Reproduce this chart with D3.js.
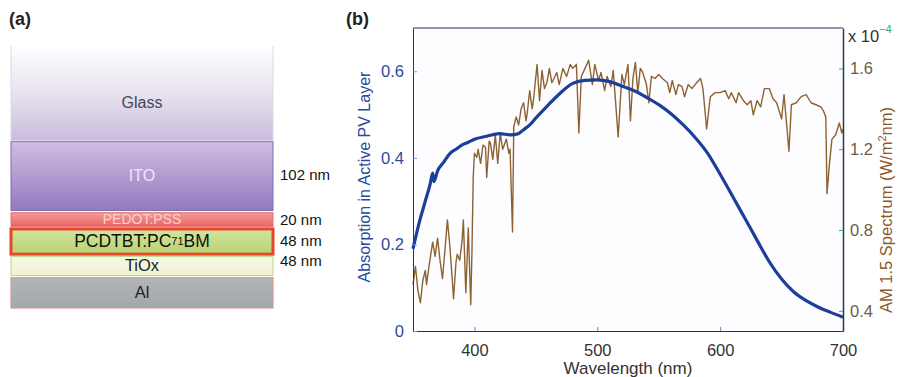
<!DOCTYPE html>
<html>
<head>
<meta charset="utf-8">
<script src="https://cdn.jsdelivr.net/npm/d3@7"></script>
<style>
  body { margin: 0; background: #fff; }
  text { font-family: "Liberation Sans", Arial, sans-serif; }
</style>
</head>
<body>
<div id="chart"></div>
<script>
// ---- panel (a): device stack ----
const layerNames = ['Glass', 'ITO', 'PEDOT:PSS', 'PCDTBT:PC71BM', 'TiOx', 'Al'];
const layerThickness = ['', '102 nm', '20 nm', '48 nm', '48 nm', ''];
const layerUnits = [96, 70, 16, 27, 21, 32];   // drawn heights (not to scale)

// ---- panel (b): absorption + AM1.5 ----
const absWl = [350, 355, 360, 364, 366, 367, 370, 375, 380, 385, 390, 395, 400, 410, 420, 430, 435,
  440, 445, 450, 460, 470, 480, 490, 500, 510, 520, 530, 540, 550, 560, 570, 580, 590, 600,
  610, 620, 630, 640, 650, 660, 670, 680, 690, 700];
const absVal = [0.19, 0.25, 0.30, 0.34, 0.365, 0.345, 0.37, 0.39, 0.41, 0.42, 0.43, 0.436, 0.443, 0.45, 0.456, 0.453, 0.455,
  0.465, 0.476, 0.492, 0.522, 0.55, 0.572, 0.579, 0.58, 0.576, 0.566, 0.555, 0.54, 0.523, 0.502, 0.476, 0.446, 0.41, 0.362,
  0.312, 0.261, 0.21, 0.16, 0.12, 0.09, 0.07, 0.055, 0.043, 0.032];

const specWl = [350, 352, 354, 356, 358, 360, 361, 363, 366, 368, 370, 372, 374, 376, 378, 380, 382, 383, 385, 386,
  388, 390, 391, 393, 395, 397, 398, 399, 400, 402, 403, 405, 407, 409, 410, 412, 413, 415, 417, 419,
  421, 423, 426, 428, 429, 431, 432, 434, 436, 438, 440, 442, 443, 445, 447, 448, 451, 453, 455, 457,
  459, 461, 463, 464, 467, 469, 472, 475, 478, 480, 483, 485, 487, 490, 493, 496, 498, 501, 503, 506,
  508, 511, 513, 517, 520, 522, 525, 527, 529, 531, 533, 535, 537, 540, 542, 544, 547, 550, 553, 557,
  559, 561, 564, 566, 569, 571, 574, 577, 581, 584, 586, 589, 592, 596, 600, 604, 607, 609, 613, 615,
  619, 622, 625, 627, 630, 633, 636, 640, 643, 646, 650, 652, 656, 658, 662, 666, 670, 674, 678, 682,
  684, 686, 687, 689, 691, 694, 697, 699, 700];
const specVal = [0.53, 0.62, 0.50, 0.44, 0.55, 0.60, 0.53, 0.62, 0.74, 0.67, 0.76, 0.65, 0.56, 0.70, 0.85, 0.72, 0.55, 0.46, 0.64, 0.68,
  0.65, 0.75, 0.85, 0.49, 0.81, 0.43, 0.70, 1.06, 1.18, 1.16, 1.20, 1.13, 1.22, 1.21, 1.06, 1.24, 1.23, 1.15, 1.27, 1.13,
  1.28, 1.20, 1.25, 1.18, 1.20, 0.79, 1.31, 1.36, 1.32, 1.40, 1.43, 1.34, 1.38, 1.49, 1.40, 1.44, 1.62, 1.44, 1.59, 1.50,
  1.53, 1.60, 1.53, 1.54, 1.58, 1.52, 1.60, 1.56, 1.62, 1.60, 1.62, 1.28, 1.56, 1.60, 1.64, 1.52, 1.62, 1.54, 1.58, 1.49,
  1.56, 1.51, 1.59, 1.26, 1.57, 1.52, 1.62, 1.34, 1.55, 1.63, 1.48, 1.60, 1.58, 1.52, 1.43, 1.56, 1.55, 1.57, 1.55, 1.53,
  1.48, 1.54, 1.47, 1.52, 1.51, 1.46, 1.52, 1.50, 1.53, 1.55, 1.50, 1.30, 1.46, 1.48, 1.48, 1.49, 1.45, 1.48, 1.43, 1.48,
  1.44, 1.42, 1.44, 1.37, 1.44, 1.41, 1.50, 1.50, 1.45, 1.43, 1.35, 1.47, 1.19, 1.42, 1.43, 1.46, 1.47, 1.43, 1.42, 1.41,
  1.39, 1.36, 0.98, 1.13, 1.25, 1.27, 1.33, 1.28, 1.30];

const xTicks = [400, 500, 600, 700];
const yLeftTicks = [0, 0.2, 0.4, 0.6];
const yRightTicks = [0.4, 0.8, 1.2, 1.6];

const W = 901, H = 377;
const svg = d3.select('#chart').append('svg').attr('width', W).attr('height', H);
const defs = svg.append('defs');

function vgrad(id, stops) {
  const g = defs.append('linearGradient').attr('id', id).attr('x1', 0).attr('x2', 0).attr('y1', 0).attr('y2', 1);
  stops.forEach(s => g.append('stop').attr('offset', s[0]).attr('stop-color', s[1]));
}
vgrad('gGlass', [[0, '#ffffff'], [0.45, '#ece7f2'], [1, '#c9bcdc']]);
vgrad('gITO', [[0, '#cfbde2'], [1, '#9479c0']]);
vgrad('gPED', [[0, '#f59a96'], [1, '#e86462']]);
vgrad('gPCD', [[0, '#d2e6a0'], [1, '#b7d270']]);
vgrad('gTiO', [[0, '#f7f9e6'], [1, '#eef3d0']]);
vgrad('gAl', [[0, '#b2b5b7'], [1, '#a3a7a9']]);

const layerFill = ['url(#gGlass)', 'url(#gITO)', 'url(#gPED)', 'url(#gPCD)', 'url(#gTiO)', 'url(#gAl)'];
const layerStroke = ['#ddd8e6', '#7f6fae', '#e07070', '#e8452a', '#b9d68e', '#d59a96'];
const layerStrokeW = [1, 1, 1, 3, 1, 1.2];
const layerText = ['#454555', '#f1e6f6', '#fbd2d0', '#111', '#222', '#222'];
const layerFont = [16, 16, 14, 17.5, 16.5, 16.5];
const layerTextShift = [12, 1, 1, 1, 1, 1];

// ---- panel (a)
const stackX0 = 11, stackX1 = 273;
const cum = d3.cumsum(layerUnits);
const yStack = d3.scaleLinear().domain([0, cum[cum.length - 1]]).range([43, 309]);
const layers = layerNames.map((n, i) => ({
  name: n, thick: layerThickness[i],
  y0: yStack(i ? cum[i - 1] : 0), y1: yStack(cum[i]), i
}));

const gA = svg.append('g');
gA.selectAll('rect').data(layers).join('rect')
  .attr('x', stackX0).attr('width', stackX1 - stackX0)
  .attr('y', d => d.y0 + (d.i ? 1.2 : 0))
  .attr('height', d => d.y1 - d.y0 - (d.i ? 2.2 : 0))
  .attr('fill', d => layerFill[d.i])
  .attr('stroke', d => layerStroke[d.i])
  .attr('stroke-width', d => layerStrokeW[d.i]);
// glass top fades out: cover top edge
gA.append('rect').attr('x', stackX0 - 2).attr('y', 40).attr('width', stackX1 - stackX0 + 4).attr('height', 6).attr('fill', '#fff');

gA.selectAll('text.layer').data(layers).join('text')
  .attr('class', 'layer')
  .attr('x', (stackX0 + stackX1) / 2)
  .attr('y', d => (d.y0 + d.y1) / 2 + layerTextShift[d.i])
  .attr('text-anchor', 'middle').attr('dominant-baseline', 'middle')
  .attr('fill', d => layerText[d.i])
  .style('font-size', d => layerFont[d.i] + 'px')
  .each(function (d) {
    const t = d3.select(this);
    if (d.name === 'PCDTBT:PC71BM') {
      t.append('tspan').text('PCDTBT:PC');
      t.append('tspan').text('71').style('font-size', '11px');
      t.append('tspan').text('BM');
    } else t.text(d.name);
  });

gA.selectAll('text.thick').data(layers.filter(d => d.thick)).join('text')
  .attr('class', 'thick')
  .attr('x', 280)
  .attr('y', d => d.i === 1 ? 176 : (d.i === 4 ? 262 : (d.y0 + d.y1) / 2 + 1))
  .attr('dominant-baseline', 'middle')
  .attr('fill', '#111').style('font-size', '15px')
  .text(d => d.thick);

svg.append('text').attr('x', 9).attr('y', 25).style('font-size', '18px').style('font-weight', 'bold')
  .attr('fill', '#222').text('(a)');

// ---- panel (b)
const m = { left: 413, right: 843, top: 28, bottom: 331 };
const x = d3.scaleLinear().domain([350, 700]).range([m.left, m.right]);
const yL = d3.scaleLinear().domain([0, 0.7]).range([m.bottom, m.top]);
const yR = d3.scaleLinear().domain([0.3, 1.8]).range([m.bottom, m.top]);

svg.append('rect').attr('x', m.left).attr('y', m.top).attr('width', m.right - m.left).attr('height', m.bottom - m.top)
  .attr('fill', '#fdfdff');

const spec = specWl.map((w, i) => [w, specVal[i]]);
const abs = absWl.map((w, i) => [w, absVal[i]]);

svg.append('path').datum(spec)
  .attr('fill', 'none').attr('stroke', '#8d6232').attr('stroke-width', 1.4).attr('stroke-linejoin', 'round')
  .attr('d', d3.line().x(d => x(d[0])).y(d => yR(d[1])));

svg.append('path').datum(abs)
  .attr('fill', 'none').attr('stroke', '#1d3f9a').attr('stroke-width', 3.2).attr('stroke-linejoin', 'round')
  .attr('d', d3.line().curve(d3.curveMonotoneX).x(d => x(d[0])).y(d => yL(d[1])));

// axes (ticks inward)
const xAxis = svg.append('g').attr('transform', `translate(0,${m.bottom})`)
  .call(d3.axisBottom(x).tickValues(xTicks).tickSize(-4).tickSizeOuter(0).tickPadding(10).tickFormat(d3.format('d')));
xAxis.select('.domain').attr('stroke', '#333');
xAxis.selectAll('.tick line').attr('stroke', '#6a8aa8');
xAxis.selectAll('text').attr('fill', '#333').style('font-size', '16.5px').attr('dy', '0.9em');

const yAxisL = svg.append('g').attr('transform', `translate(${m.left},0)`)
  .call(d3.axisLeft(yL).tickValues(yLeftTicks).tickSize(-4).tickSizeOuter(0).tickPadding(9)
    .tickFormat(d => d === 0 ? '0' : d3.format('.1f')(d)));
yAxisL.select('.domain').attr('stroke', '#333');
yAxisL.selectAll('.tick line').attr('stroke', '#5aa0e0');
yAxisL.selectAll('text').attr('fill', '#2b4a9c').style('font-size', '16.5px');

const yAxisR = svg.append('g').attr('transform', `translate(${m.right},0)`)
  .call(d3.axisRight(yR).tickValues(yRightTicks).tickSize(-4).tickSizeOuter(0).tickPadding(7).tickFormat(d3.format('.1f')));
yAxisR.select('.domain').attr('stroke', '#2a3850').attr('stroke-width', 1.5);
yAxisR.selectAll('.tick line').attr('stroke', '#30b0a0');
yAxisR.selectAll('text').attr('fill', '#6e5a44').style('font-size', '16.5px');

svg.append('line').attr('x1', m.left).attr('x2', m.right).attr('y1', m.top).attr('y2', m.top)
  .attr('stroke', '#2a3850').attr('stroke-width', 1.2);

svg.append('text').attr('x', x(525)).attr('y', 374).attr('text-anchor', 'middle')
  .attr('fill', '#333').style('font-size', '17px').text('Wavelength (nm)');

svg.append('text').attr('transform', `translate(370,${177}) rotate(-90)`).attr('text-anchor', 'middle')
  .attr('fill', '#2b4a9c').style('font-size', '16px').text('Absorption in Active PV Layer');

const rl = svg.append('text').attr('transform', `translate(892,${210}) rotate(-90)`).attr('text-anchor', 'middle')
  .attr('fill', '#8d5a2a').style('font-size', '16.5px');
rl.append('tspan').text('AM 1.5 Spectrum (W/m');
rl.append('tspan').text('2').attr('dy', -6).style('font-size', '11px');
rl.append('tspan').text('nm)').attr('dy', 6);

const ex = svg.append('text').attr('x', 848).attr('y', 42).attr('fill', '#333').style('font-size', '16.5px');
ex.append('tspan').text('x 10');
ex.append('tspan').text('−4').attr('dy', -9).attr('fill', '#2aa87a').style('font-size', '11px');

svg.append('text').attr('x', 346).attr('y', 25).style('font-size', '18px').style('font-weight', 'bold')
  .attr('fill', '#222').text('(b)');
</script>
</body>
</html>
